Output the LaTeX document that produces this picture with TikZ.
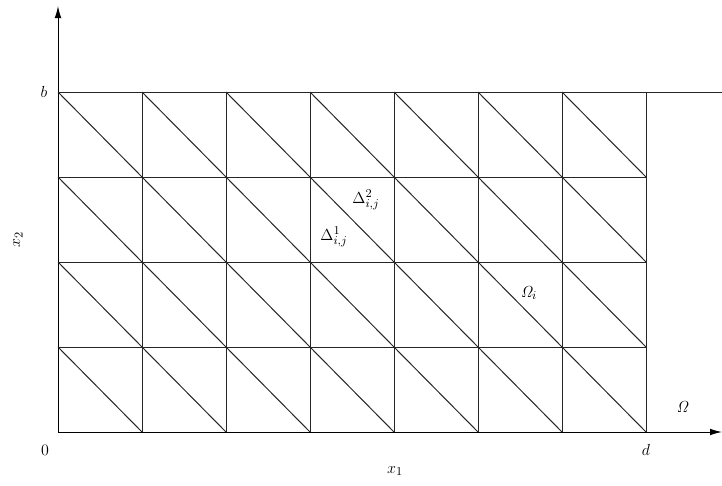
\documentclass[tikz,border=0pt]{standalone}
\usetikzlibrary{arrows.meta}
\begin{document}
\begin{tikzpicture}[x=0.75pt,y=-0.75pt,line width=0.75pt,
  font=\fontsize{13}{16}\selectfont,
  mesh/.style={draw=black!85},
  axis/.style={-{Latex[length=9pt,width=5pt]}},
  lbl/.style={inner sep=1pt}]
\useasboundingbox (0,0) rectangle (722,486);
% axes
\coordinate (O) at (58,432);
\coordinate (xend) at (722,432);
\coordinate (yend) at (58,6);
\draw[axis] (O) -- (xend);
\draw[axis] (O) -- (yend);
% grid and triangles
\draw[mesh] (58,92) -- (722,92);
\foreach \j in {1,2,3} \draw[mesh] (58,{92+85*\j}) -- (646,{92+85*\j});
\foreach \i in {1,...,7} \draw[mesh] ({58+84*\i},92) -- ({58+84*\i},432);
\foreach \i in {0,...,6}
  \foreach \j in {0,...,3}
    \draw[mesh] ({58+84*\i},{92+85*\j}) -- ({142+84*\i},{177+85*\j});
% labels
\node[lbl] (b) at (44,92) {$b$};
\node[lbl] (zero) at (45,450) {$0$};
\node[lbl] (d) at (646,450) {$d$};
\node[lbl] (x1) at (395,471) {$x_1$};
\node[lbl,rotate=90] (x2) at (18,240) {$x_2$};
\node[lbl] (Om) at (683,407) {$\mathit{\Omega}$};
\node[lbl] (Omi) at (529,293) {$\mathit{\Omega}_i$};
\node[lbl] (D2) at (366,200) {$\Delta_{i,j}^2$};
\node[lbl] (D1) at (334,237) {$\Delta_{i,j}^1$};
\end{tikzpicture}
\end{document}
